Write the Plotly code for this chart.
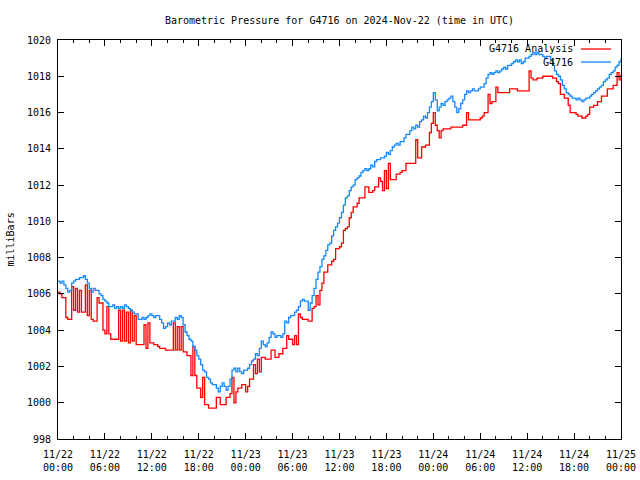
import pandas as pd
import plotly.graph_objects as go

START = "2024-11-22 00:00"
STEP = "15min"

# G4716 Analysis (red), 15-minute values, one row = 3 hours
analysis_mb = [
    1006.1, 1006.0, 1005.8, 1005.8, 1004.7, 1004.6, 1004.6, 1006.4, 1005.1, 1006.3, 1005.0, 1006.2,
    1005.0, 1005.0, 1006.5, 1004.8, 1006.2, 1004.6, 1004.5, 1004.5, 1005.8, 1005.5, 1005.5, 1004.0,
    1003.8, 1005.3, 1003.8, 1003.5, 1003.5, 1003.5, 1003.5, 1005.1, 1003.4, 1005.1, 1003.4, 1005.0,
    1003.3, 1005.1, 1003.4, 1004.8, 1003.2, 1003.2, 1003.2, 1003.2, 1004.3, 1003.0, 1004.4, 1003.3,
    1003.3, 1003.2, 1003.2, 1003.1, 1003.0, 1003.0, 1003.0, 1002.9, 1002.9, 1002.9, 1002.9, 1004.4,
    1002.9, 1004.2, 1002.9, 1004.2, 1002.8, 1002.8, 1002.6, 1002.6, 1001.5, 1003.1, 1001.5, 1000.8,
    1000.8, 1000.3, 1001.4, 999.9, 999.9, 999.7, 999.7, 999.7, 999.7, 1000.3, 1000.3, 999.9,
    999.9, 999.9, 1000.3, 1000.3, 1000.5, 1001.4, 1000.0, 1000.6, 1000.8, 1000.8, 1001.0, 1001.0,
    1000.6, 1000.9, 1001.3, 1001.3, 1002.1, 1001.6, 1002.4, 1001.7, 1002.5, 1002.5, 1002.4, 1002.4,
    1002.4, 1002.9, 1002.9, 1002.5, 1002.5, 1002.7, 1002.7, 1003.0, 1003.0, 1003.7, 1003.5, 1003.5,
    1003.2, 1003.7, 1003.2, 1004.9, 1004.7, 1004.6, 1004.6, 1004.6, 1004.5, 1004.5, 1005.2, 1005.3,
    1005.9, 1005.4, 1006.2, 1006.6, 1007.2, 1007.2, 1007.6, 1007.6, 1007.8, 1007.9, 1008.5, 1008.5,
    1008.6, 1008.8, 1009.5, 1009.6, 1009.7, 1010.2, 1010.5, 1010.8, 1010.8, 1011.0, 1011.3, 1011.3,
    1011.3, 1011.9, 1011.9, 1011.6, 1011.6, 1011.7, 1011.9, 1011.9, 1012.4, 1012.2, 1011.7, 1012.8,
    1011.8, 1013.2, 1012.3, 1012.3, 1012.3, 1012.6, 1012.6, 1012.7, 1012.8, 1012.8, 1013.2, 1013.2,
    1013.2, 1013.2, 1013.2, 1014.5, 1013.5, 1013.5, 1014.1, 1014.1, 1014.2, 1014.2, 1014.9, 1015.4,
    1016.0, 1015.3, 1015.0, 1014.6, 1015.0, 1015.1, 1015.1, 1015.1, 1015.1, 1015.2, 1015.2, 1015.2,
    1015.2, 1015.2, 1015.2, 1015.3, 1015.3, 1016.0, 1015.6, 1015.6, 1015.6, 1015.6, 1015.6, 1015.6,
    1015.7, 1015.8, 1016.0, 1016.0, 1017.0, 1016.5, 1016.6, 1016.6, 1017.4, 1017.1, 1017.1, 1017.1,
    1017.1, 1017.1, 1017.1, 1017.3, 1017.3, 1017.3, 1017.3, 1017.2, 1017.2, 1017.2, 1017.2, 1017.2,
    1017.2, 1018.3, 1017.9, 1017.8, 1017.8, 1017.9, 1017.9, 1017.9, 1018.0, 1018.0, 1018.0, 1018.0,
    1018.0, 1017.9, 1017.9, 1017.7, 1017.6, 1017.0, 1017.0, 1016.8, 1016.8, 1016.4, 1016.0, 1016.0,
    1016.0, 1015.9, 1015.8, 1015.8, 1015.7, 1015.7, 1015.8, 1015.9, 1016.3, 1016.3, 1016.4, 1016.4,
    1016.6, 1016.6, 1016.9, 1016.9, 1016.9, 1017.3, 1017.3, 1017.3, 1017.5, 1017.5, 1018.2, 1017.8,
    1018.1,
]

# G4716 observed (blue), 15-minute values, one row = 3 hours
station_mb = [
    1006.7, 1006.6, 1006.7, 1006.5, 1006.3, 1006.1, 1006.2, 1006.6, 1006.7, 1006.8, 1006.8, 1006.9,
    1006.9, 1007.0, 1006.8, 1006.6, 1006.3, 1006.1, 1006.3, 1006.2, 1006.2, 1006.0, 1005.9, 1005.7,
    1005.6, 1005.5, 1005.3, 1005.3, 1005.4, 1005.2, 1005.3, 1005.2, 1005.3, 1005.2, 1005.4, 1005.3,
    1005.2, 1005.1, 1005.0, 1004.9, 1004.9, 1004.6, 1004.6, 1004.7, 1004.6, 1004.7, 1004.8, 1004.9,
    1004.8, 1004.7, 1004.8, 1004.8, 1004.6, 1004.4, 1004.1, 1004.2, 1004.4, 1004.3, 1004.5, 1004.5,
    1004.7, 1004.6, 1004.8, 1004.7, 1004.3, 1003.9, 1003.7, 1003.5, 1003.4, 1003.1, 1002.9, 1002.6,
    1002.4, 1002.1, 1001.8, 1001.7, 1001.4, 1001.3, 1001.1, 1001.0, 1001.0, 1000.8, 1000.6, 1000.9,
    1001.1, 1000.9, 1000.7, 1000.9, 1001.3, 1001.8, 1001.9, 1001.7, 1001.9, 1001.7, 1001.6, 1001.8,
    1001.8, 1001.9, 1002.1, 1002.3, 1002.4, 1002.7, 1002.6, 1003.0, 1003.4, 1003.2, 1003.1, 1003.3,
    1003.6, 1003.9, 1003.8, 1003.6, 1003.7, 1003.7, 1003.6, 1003.8, 1004.5, 1004.4, 1004.7, 1004.8,
    1004.8, 1005.0, 1005.1, 1005.3, 1005.6, 1005.7, 1005.6, 1005.6, 1005.1, 1005.5, 1005.9, 1006.3,
    1006.8, 1007.2, 1007.5, 1007.9, 1008.1, 1008.4, 1008.7, 1008.8, 1009.2, 1009.5, 1009.7, 1009.9,
    1010.2, 1010.5, 1010.9, 1011.3, 1011.4, 1011.7, 1011.9, 1012.0, 1012.3, 1012.4, 1012.5, 1012.7,
    1012.8, 1012.9, 1012.8, 1012.9, 1013.1, 1013.0, 1013.3, 1013.4, 1013.4, 1013.5, 1013.5, 1013.6,
    1013.8, 1013.7, 1013.9, 1014.1, 1014.2, 1014.3, 1014.2, 1014.4, 1014.4, 1014.6, 1014.8, 1014.8,
    1015.0, 1015.2, 1015.1, 1015.3, 1015.2, 1015.5, 1015.6, 1015.8, 1015.7, 1016.0, 1016.3, 1016.6,
    1017.1, 1016.7, 1016.1, 1016.3, 1016.5, 1016.4, 1016.6, 1016.7, 1016.8, 1016.9, 1016.6, 1016.3,
    1016.0, 1016.2, 1016.5, 1016.7, 1017.0, 1017.2, 1017.1, 1017.2, 1017.3, 1017.2, 1017.2, 1017.3,
    1017.4, 1017.4, 1017.6, 1017.9, 1018.1, 1018.2, 1018.1, 1018.2, 1018.3, 1018.2, 1018.3, 1018.4,
    1018.5, 1018.4, 1018.6, 1018.6, 1018.7, 1018.8, 1018.9, 1018.8, 1018.9, 1018.7, 1018.8, 1019.0,
    1019.0, 1019.1, 1019.2, 1019.3, 1019.2, 1019.3, 1019.2, 1019.2, 1019.1, 1019.0, 1019.1, 1019.1,
    1018.9, 1018.6, 1018.3, 1018.1, 1018.0, 1017.8, 1017.5, 1017.3, 1017.1, 1017.0, 1016.9, 1016.8,
    1016.8, 1016.7, 1016.8, 1016.7, 1016.6, 1016.7, 1016.8, 1016.8, 1016.9, 1017.0, 1017.1, 1017.2,
    1017.3, 1017.4, 1017.5, 1017.7, 1017.8, 1017.9, 1018.1, 1018.2, 1018.3, 1018.5, 1018.6, 1018.8,
    1019.0,
]

series_names = ["G4716 Analysis", "G4716"]
series_colors = ["#ff0000", "#1488ff"]
title_text = "Barometric Pressure for G4716 on 2024-Nov-22 (time in UTC)"
y_title = "milliBars"
y_ticks = [998, 1000, 1002, 1004, 1006, 1008, 1010, 1012, 1014, 1016, 1018, 1020]
x_range = ["2024-11-22 00:00", "2024-11-25 00:00"]

times_a = pd.date_range(START, periods=len(analysis_mb), freq=STEP)
times_s = pd.date_range(START, periods=len(station_mb), freq=STEP)

FONT = "DejaVu Sans Mono"

fig = go.Figure()
fig.add_trace(go.Scatter(x=times_a, y=analysis_mb, mode="lines", name=series_names[0],
                         line=dict(color=series_colors[0], width=1.3, shape="hv")))
fig.add_trace(go.Scatter(x=times_s, y=station_mb, mode="lines", name=series_names[1],
                         line=dict(color=series_colors[1], width=1.3, shape="hv")))

L, R, T, B = 58, 19, 40, 41
W, H = 640, 480
pw, ph = W - L - R, H - T - B

def px_x(px):
    return (px - L) / pw

def px_y(py):
    return 1 - (py - T) / ph

fig.update_layout(
    width=W, height=H,
    margin=dict(l=L, r=R, t=T, b=B, autoexpand=False),
    paper_bgcolor="white", plot_bgcolor="white",
    showlegend=False,
    font=dict(family=FONT, size=10, color="black"),
    title=dict(text=title_text, x=0.5, xref="paper", y=1 - 20 / H, yref="container",
               xanchor="center", yanchor="middle", font=dict(family=FONT, size=10, color="black")),
    xaxis=dict(
        type="date", range=x_range, showgrid=False, zeroline=False, automargin=False,
        showline=True, linecolor="black", linewidth=1, mirror="ticks",
        ticks="inside", ticklen=6, tickcolor="black", tickwidth=1,
        dtick=6 * 3600 * 1000, tick0="2024-11-22 00:00",
        tickformat="%m/%d<br>%H:%M",
        minor=dict(ticks="inside", ticklen=3, tickcolor="black", dtick=2 * 3600 * 1000, showgrid=False),
        ticklabelstandoff=6,
        tickfont=dict(family=FONT, size=10, color="black"),
    ),
    yaxis=dict(
        range=[998, 1020], showgrid=False, zeroline=False, automargin=False,
        showline=True, linecolor="black", linewidth=1, mirror="ticks",
        ticks="inside", ticklen=6, tickcolor="black", tickwidth=1,
        tickvals=y_ticks,
        ticklabelstandoff=4,
        tickfont=dict(family=FONT, size=10, color="black"),
    ),
)

# y-axis title
fig.add_annotation(text=y_title, xref="paper", yref="paper", x=px_x(10), y=0.5,
                   textangle=-90, showarrow=False, xanchor="center", yanchor="middle",
                   font=dict(family=FONT, size=10, color="black"))

# gnuplot-style key: right-aligned text followed by a line sample
key_rows = [49, 62]
for name, color, ky in zip(series_names, series_colors, key_rows):
    fig.add_annotation(text=name, xref="paper", yref="paper", x=px_x(575), y=px_y(ky),
                       showarrow=False, xanchor="right", yanchor="middle",
                       font=dict(family=FONT, size=10, color="black"))
    fig.add_shape(type="line", xref="paper", yref="paper",
                  x0=px_x(581), x1=px_x(611), y0=px_y(ky), y1=px_y(ky),
                  line=dict(color=color, width=1.3))

fig.write_html(
    "out.html",
    config={"displayModeBar": False},
    post_script="document.body.style.margin='0';document.body.style.overflow='hidden';",
)
